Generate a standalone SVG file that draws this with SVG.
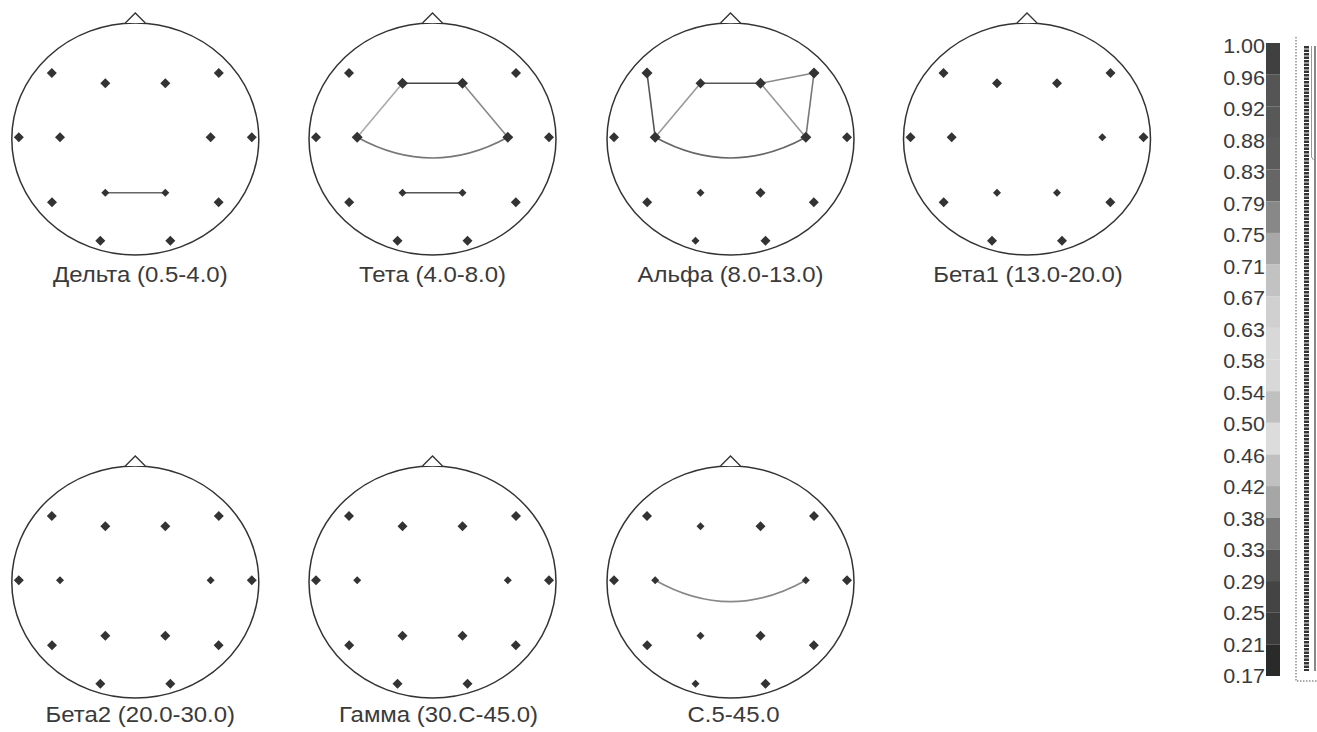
<svg xmlns="http://www.w3.org/2000/svg" xmlns:xlink="http://www.w3.org/1999/xlink" width="1317" height="732" viewBox="0 0 1317 732">
<style>
.head{fill:none;stroke:#333;stroke-width:1.5}
.nose{fill:#fff;stroke:#333;stroke-width:1.3}
.el{fill:#333}
.lbl{font-family:"Liberation Sans",Arial,sans-serif;font-size:22px;fill:#3a3a3a;text-anchor:middle}
.cb{font-family:"Liberation Sans",Arial,sans-serif;font-size:20.5px;fill:#3a3a3a;text-anchor:end}
.c{fill:none;stroke-width:1.6}
</style>
<defs>
<path id="d" d="M0,-5 L5,0 L0,5 L-5,0 Z" class="el"/>
<path id="ds" d="M0,-4 L4,0 L0,4 L-4,0 Z" class="el"/>
<path id="dl" d="M0,-5.5 L5.5,0 L0,5.5 L-5.5,0 Z" class="el"/>
<g id="outline">
<ellipse cx="0" cy="0" rx="123.5" ry="116" class="head"/>
<path d="M-10,-116 L0,-126 L10,-116" class="nose"/>
</g>
</defs>
<rect width="1317" height="732" fill="#fff"/>

<g id="connectors">
<g transform="translate(135.3,139)">
<line x1="-30" y1="53.7" x2="30" y2="53.7" class="c" stroke="#666"/>
</g>
<g transform="translate(432.5,139)">
<line x1="-30" y1="-55.7" x2="30" y2="-55.7" class="c" stroke="#444" stroke-width="1.8"/>
<line x1="-30" y1="-55.7" x2="-75.3" y2="-1.7" class="c" stroke="#aaa"/>
<line x1="30" y1="-55.7" x2="75.3" y2="-1.7" class="c" stroke="#888"/>
<path d="M-75.3,-1.7 Q0,39.7 75.3,-1.7" class="c" stroke="#777"/>
<line x1="-30" y1="53.7" x2="30" y2="53.7" class="c" stroke="#555"/>
</g>
<g transform="translate(730.5,139)">
<line x1="-83.5" y1="-66" x2="-75.3" y2="-1.7" class="c" stroke="#555"/>
<line x1="-30" y1="-55.7" x2="-75.3" y2="-1.7" class="c" stroke="#999"/>
<line x1="-30" y1="-55.7" x2="30" y2="-55.7" class="c" stroke="#555" stroke-width="1.8"/>
<line x1="30" y1="-55.7" x2="83.5" y2="-66" class="c" stroke="#888"/>
<line x1="83.5" y1="-66" x2="75.3" y2="-1.7" class="c" stroke="#777"/>
<line x1="30" y1="-55.7" x2="75.3" y2="-1.7" class="c" stroke="#999"/>
<path d="M-75.3,-1.7 Q0,39.7 75.3,-1.7" class="c" stroke="#666"/>
</g>
<g transform="translate(730.5,582)">
<path d="M-75.3,-1.7 Q0,41 75.3,-1.7" class="c" stroke="#888"/>
</g>
</g>

<g id="head-delta" transform="translate(135.3,139)">
<use xlink:href="#outline"/>
<use xlink:href="#d" x="-83.5" y="-66"/><use xlink:href="#d" x="83.5" y="-66"/>
<use xlink:href="#d" x="-30" y="-55.7"/><use xlink:href="#d" x="30" y="-55.7"/>
<use xlink:href="#d" x="-116.5" y="-1.7"/><use xlink:href="#d" x="-75.3" y="-1.7"/><use xlink:href="#d" x="75.3" y="-1.7"/><use xlink:href="#d" x="116.5" y="-1.7"/>
<use xlink:href="#ds" x="-30" y="53.7"/><use xlink:href="#ds" x="30" y="53.7"/>
<use xlink:href="#d" x="-83.3" y="63.3"/><use xlink:href="#d" x="83.3" y="63.3"/>
<use xlink:href="#d" x="-35" y="101.7"/><use xlink:href="#d" x="35" y="101.7"/>
<text class="lbl" transform="translate(5,142.5) scale(1.09,1)">Дельта (0.5-4.0)</text>
</g>

<g id="head-theta" transform="translate(432.5,139)">
<use xlink:href="#outline"/>
<use xlink:href="#d" x="-83.5" y="-66"/><use xlink:href="#d" x="83.5" y="-66"/>
<use xlink:href="#dl" x="-30" y="-55.7"/><use xlink:href="#dl" x="30" y="-55.7"/>
<use xlink:href="#d" x="-116.5" y="-1.7"/><use xlink:href="#dl" x="-75.3" y="-1.7"/><use xlink:href="#dl" x="75.3" y="-1.7"/><use xlink:href="#d" x="116.5" y="-1.7"/>
<use xlink:href="#ds" x="-30" y="53.7"/><use xlink:href="#ds" x="30" y="53.7"/>
<use xlink:href="#d" x="-83.3" y="63.3"/><use xlink:href="#d" x="83.3" y="63.3"/>
<use xlink:href="#d" x="-35" y="101.7"/><use xlink:href="#d" x="35" y="101.7"/>
<text class="lbl" transform="translate(0,142.5) scale(1.09,1)">Тета (4.0-8.0)</text>
</g>

<g id="head-alpha" transform="translate(730.5,139)">
<use xlink:href="#outline"/>
<use xlink:href="#dl" x="-83.5" y="-66"/><use xlink:href="#dl" x="83.5" y="-66"/>
<use xlink:href="#d" x="-30" y="-55.7"/><use xlink:href="#dl" x="30" y="-55.7"/>
<use xlink:href="#d" x="-116.5" y="-1.7"/><use xlink:href="#dl" x="-75.3" y="-1.7"/><use xlink:href="#dl" x="75.3" y="-1.7"/><use xlink:href="#d" x="116.5" y="-1.7"/>
<use xlink:href="#ds" x="-30" y="53.7"/><use xlink:href="#d" x="30" y="53.7"/>
<use xlink:href="#d" x="-83.3" y="63.3"/><use xlink:href="#d" x="83.3" y="63.3"/>
<use xlink:href="#ds" x="-35" y="101.7"/><use xlink:href="#d" x="35" y="101.7"/>
<text class="lbl" transform="translate(0,142.5) scale(1.09,1)">Альфа (8.0-13.0)</text>
</g>

<g id="head-beta1" transform="translate(1027,139)">
<use xlink:href="#outline"/>
<use xlink:href="#d" x="-83.5" y="-66"/><use xlink:href="#d" x="83.5" y="-66"/>
<use xlink:href="#d" x="-30" y="-55.7"/><use xlink:href="#d" x="30" y="-55.7"/>
<use xlink:href="#d" x="-116.5" y="-1.7"/><use xlink:href="#d" x="-75.3" y="-1.7"/><use xlink:href="#ds" x="75.3" y="-1.7"/><use xlink:href="#d" x="116.5" y="-1.7"/>
<use xlink:href="#ds" x="-30" y="53.7"/><use xlink:href="#ds" x="30" y="53.7"/>
<use xlink:href="#d" x="-83.3" y="63.3"/><use xlink:href="#d" x="83.3" y="63.3"/>
<use xlink:href="#d" x="-35" y="101.7"/><use xlink:href="#d" x="35" y="101.7"/>
<text class="lbl" transform="translate(1,142.5) scale(1.09,1)">Бета1 (13.0-20.0)</text>
</g>

<g id="head-beta2" transform="translate(135.3,582)">
<use xlink:href="#outline"/>
<use xlink:href="#d" x="-83.5" y="-66"/><use xlink:href="#d" x="83.5" y="-66"/>
<use xlink:href="#d" x="-30" y="-55.7"/><use xlink:href="#d" x="30" y="-55.7"/>
<use xlink:href="#d" x="-116.5" y="-1.7"/><use xlink:href="#ds" x="-75.3" y="-1.7"/><use xlink:href="#ds" x="75.3" y="-1.7"/><use xlink:href="#d" x="116.5" y="-1.7"/>
<use xlink:href="#d" x="-30" y="53.7"/><use xlink:href="#d" x="30" y="53.7"/>
<use xlink:href="#d" x="-83.3" y="63.3"/><use xlink:href="#d" x="83.3" y="63.3"/>
<use xlink:href="#d" x="-35" y="101.7"/><use xlink:href="#d" x="35" y="101.7"/>
<text class="lbl" transform="translate(5,139.5) scale(1.09,1)">Бета2 (20.0-30.0)</text>
</g>

<g id="head-gamma" transform="translate(432.5,582)">
<use xlink:href="#outline"/>
<use xlink:href="#d" x="-83.5" y="-66"/><use xlink:href="#d" x="83.5" y="-66"/>
<use xlink:href="#d" x="-30" y="-55.7"/><use xlink:href="#d" x="30" y="-55.7"/>
<use xlink:href="#d" x="-116.5" y="-1.7"/><use xlink:href="#ds" x="-75.3" y="-1.7"/><use xlink:href="#ds" x="75.3" y="-1.7"/><use xlink:href="#d" x="116.5" y="-1.7"/>
<use xlink:href="#d" x="-30" y="53.7"/><use xlink:href="#d" x="30" y="53.7"/>
<use xlink:href="#d" x="-83.3" y="63.3"/><use xlink:href="#d" x="83.3" y="63.3"/>
<use xlink:href="#d" x="-35" y="101.7"/><use xlink:href="#d" x="35" y="101.7"/>
<text class="lbl" transform="translate(6,139.5) scale(1.09,1)">Гамма (30.C-45.0)</text>
</g>

<g id="head-all" transform="translate(730.5,582)">
<use xlink:href="#outline"/>
<use xlink:href="#d" x="-83.5" y="-66"/><use xlink:href="#d" x="83.5" y="-66"/>
<use xlink:href="#ds" x="-30" y="-55.7"/><use xlink:href="#d" x="30" y="-55.7"/>
<use xlink:href="#d" x="-116.5" y="-1.7"/><use xlink:href="#ds" x="-75.3" y="-1.7"/><use xlink:href="#ds" x="75.3" y="-1.7"/><use xlink:href="#d" x="116.5" y="-1.7"/>
<use xlink:href="#ds" x="-30" y="53.7"/><use xlink:href="#d" x="30" y="53.7"/>
<use xlink:href="#d" x="-83.3" y="63.3"/><use xlink:href="#d" x="83.3" y="63.3"/>
<use xlink:href="#ds" x="-35" y="101.7"/><use xlink:href="#d" x="35" y="101.7"/>
<text class="lbl" transform="translate(3,139.5) scale(1.09,1)">C.5-45.0</text>
</g>

<g id="colorbar">
<rect x="1266" y="43.00" width="14" height="31.7" fill="#404040"/>
<rect x="1266" y="74.65" width="14" height="31.7" fill="#555555"/>
<rect x="1266" y="106.30" width="14" height="31.7" fill="#585858"/>
<rect x="1266" y="137.95" width="14" height="31.7" fill="#5c5c5c"/>
<rect x="1266" y="169.60" width="14" height="31.7" fill="#666666"/>
<rect x="1266" y="201.25" width="14" height="31.7" fill="#888888"/>
<rect x="1266" y="232.90" width="14" height="31.7" fill="#a8a8a8"/>
<rect x="1266" y="264.55" width="14" height="31.7" fill="#c2c2c2"/>
<rect x="1266" y="296.20" width="14" height="31.7" fill="#d0d0d0"/>
<rect x="1266" y="327.85" width="14" height="31.7" fill="#d8d8d8"/>
<rect x="1266" y="359.50" width="14" height="31.7" fill="#d8d8d8"/>
<rect x="1266" y="391.15" width="14" height="31.7" fill="#c0c0c0"/>
<rect x="1266" y="422.80" width="14" height="31.7" fill="#dcdcdc"/>
<rect x="1266" y="454.45" width="14" height="31.7" fill="#c0c0c0"/>
<rect x="1266" y="486.10" width="14" height="31.7" fill="#a6a6a6"/>
<rect x="1266" y="517.75" width="14" height="31.7" fill="#777777"/>
<rect x="1266" y="549.40" width="14" height="31.7" fill="#555555"/>
<rect x="1266" y="581.05" width="14" height="31.7" fill="#444444"/>
<rect x="1266" y="612.70" width="14" height="31.7" fill="#3c3c3c"/>
<rect x="1266" y="644.35" width="14" height="31.65" fill="#2a2a2a"/>
<g class="cb">
<text transform="translate(1265,53.3) scale(1.05,1)">1.00</text>
<text transform="translate(1265,84.8) scale(1.05,1)">0.96</text>
<text transform="translate(1265,116.3) scale(1.05,1)">0.92</text>
<text transform="translate(1265,147.8) scale(1.05,1)">0.88</text>
<text transform="translate(1265,179.3) scale(1.05,1)">0.83</text>
<text transform="translate(1265,210.8) scale(1.05,1)">0.79</text>
<text transform="translate(1265,242.3) scale(1.05,1)">0.75</text>
<text transform="translate(1265,273.8) scale(1.05,1)">0.71</text>
<text transform="translate(1265,305.3) scale(1.05,1)">0.67</text>
<text transform="translate(1265,336.8) scale(1.05,1)">0.63</text>
<text transform="translate(1265,368.3) scale(1.05,1)">0.58</text>
<text transform="translate(1265,399.8) scale(1.05,1)">0.54</text>
<text transform="translate(1265,431.3) scale(1.05,1)">0.50</text>
<text transform="translate(1265,462.8) scale(1.05,1)">0.46</text>
<text transform="translate(1265,494.3) scale(1.05,1)">0.42</text>
<text transform="translate(1265,525.8) scale(1.05,1)">0.38</text>
<text transform="translate(1265,557.3) scale(1.05,1)">0.33</text>
<text transform="translate(1265,588.8) scale(1.05,1)">0.29</text>
<text transform="translate(1265,620.3) scale(1.05,1)">0.25</text>
<text transform="translate(1265,651.8) scale(1.05,1)">0.21</text>
<text transform="translate(1265,683.3) scale(1.05,1)">0.17</text>
</g>
<path d="M1296,37 V681 H1317" fill="none" stroke="#555" stroke-width="1" stroke-dasharray="1.5 1.5"/>
<line x1="1306.5" y1="46" x2="1306.5" y2="671" stroke="#333" stroke-width="5" stroke-dasharray="2.5 1"/>
<path d="M1311.5,46 V157 L1313.5,160" fill="none" stroke="#999" stroke-width="1"/>
<line x1="1315" y1="46" x2="1315" y2="671" stroke="#888" stroke-width="2"/>
</g>
</svg>
